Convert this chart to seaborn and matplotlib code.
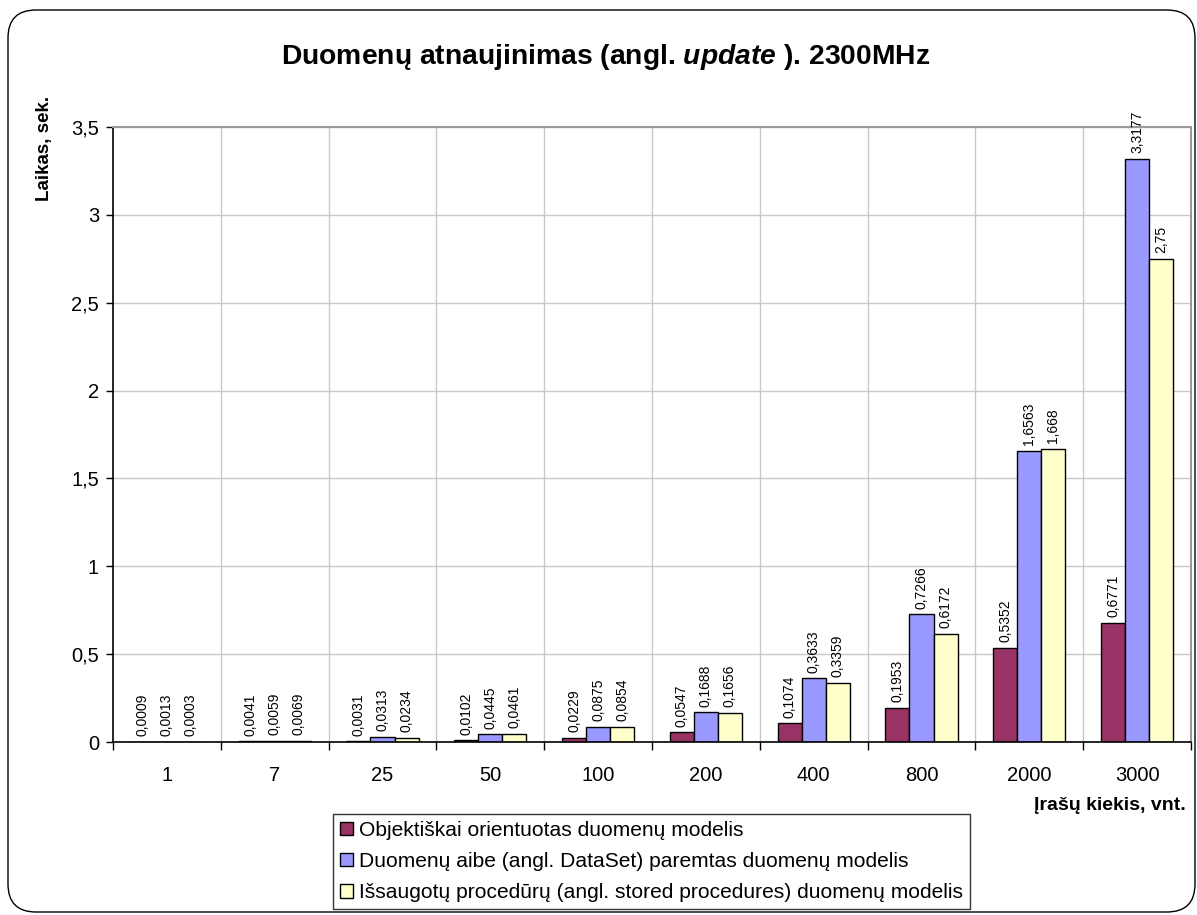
import matplotlib
matplotlib.use("Agg")
import matplotlib.pyplot as plt
from matplotlib.patches import FancyBboxPatch, Patch
import numpy as np
import pandas as pd
import seaborn as sns

# Record counts (categories) and update times in seconds for each data model
categories = ["1", "7", "25", "50", "100", "200", "400", "800", "2000", "3000"]
series_names = [
    "Objektiškai orientuotas duomenų modelis",
    "Duomenų aibe (angl. DataSet) paremtas duomenų modelis",
    "Išsaugotų procedūrų (angl. stored procedures) duomenų modelis",
]
object_model = [0.0009, 0.0041, 0.0031, 0.0102, 0.0229, 0.0547, 0.1074, 0.1953, 0.5352, 0.6771]
dataset_model = [0.0013, 0.0059, 0.0313, 0.0445, 0.0875, 0.1688, 0.3633, 0.7266, 1.6563, 3.3177]
stored_proc_model = [0.0003, 0.0069, 0.0234, 0.0461, 0.0854, 0.1656, 0.3359, 0.6172, 1.668, 2.75]
y_ticks = [0, 0.5, 1, 1.5, 2, 2.5, 3, 3.5]
y_tick_labels = ["0", "0,5", "1", "1,5", "2", "2,5", "3", "3,5"]

colors = ["#993366", "#9999FF", "#FFFFCC"]

df = pd.DataFrame({
    "kiekis": categories * 3,
    "laikas": object_model + dataset_model + stored_proc_model,
    "modelis": [series_names[0]] * 10 + [series_names[1]] * 10 + [series_names[2]] * 10,
})

sns.set_theme(style="white")
plt.rcParams["font.family"] = ["Liberation Sans", "DejaVu Sans"]
plt.rcParams["text.color"] = "black"
plt.rcParams["axes.labelcolor"] = "black"
plt.rcParams["xtick.color"] = "black"
plt.rcParams["ytick.color"] = "black"
plt.rcParams["mathtext.fontset"] = "custom"
plt.rcParams["mathtext.rm"] = "Liberation Sans:bold"
plt.rcParams["mathtext.it"] = "Liberation Sans:bold:italic"

W, H = 1197, 915
fig = plt.figure(figsize=(W / 100, H / 100), dpi=100)
fig.patch.set_facecolor("white")

# Rounded outer chart frame
frame = FancyBboxPatch((0.08, 0.03), 11.87, 9.02,
                       boxstyle="round,pad=0,rounding_size=0.28",
                       transform=fig.dpi_scale_trans, facecolor="none",
                       edgecolor="black", linewidth=1.0, zorder=0)
fig.patches.append(frame)

ax = fig.add_axes([113 / W, 1 - 742 / H, (1191 - 113) / W, (742 - 127) / H])
sns.barplot(data=df, x="kiekis", y="laikas", hue="modelis", order=categories,
            hue_order=series_names, palette=colors, width=0.67,
            edgecolor="black", linewidth=1.0, saturation=1, ax=ax, legend=False,
            zorder=3)

ax.set_xlim(-0.5, len(categories) - 0.5)
ax.set_ylim(0, 3.5)
ax.set_yticks(y_ticks)
ax.set_yticklabels(y_tick_labels, fontsize=14.5)
ax.set_xticks(range(len(categories)))
ax.set_xticklabels(categories, fontsize=14.5)
ax.set_xlabel("")
ax.set_ylabel("")

# Grid: horizontal at y ticks, vertical at category boundaries
for y in y_ticks[1:]:
    ax.axhline(y, color="#C8C8C8", linewidth=1.0, zorder=1)
for b in np.arange(0.5, len(categories) - 0.5, 1.0):
    ax.axvline(b, color="#C8C8C8", linewidth=1.0, zorder=1)

ax.tick_params(axis="x", length=0, pad=17)
ax.tick_params(axis="y", length=5, width=1, color="black", pad=5, left=True)
# Category boundary ticks on the x axis
ax.set_xticks(np.arange(-0.5, len(categories), 1.0), minor=True)
ax.tick_params(axis="x", which="minor", length=6, width=1, color="black", bottom=True)

for side in ["top", "right"]:
    ax.spines[side].set_color("#999999")
    ax.spines[side].set_linewidth(1.5)
for side in ["left", "bottom"]:
    ax.spines[side].set_color("black")
    ax.spines[side].set_linewidth(1.2)
ax.spines["bottom"].set_zorder(5)

# Value labels above each bar
for container, vals in zip(ax.containers, [object_model, dataset_model, stored_proc_model]):
    labels = [str(v).replace(".", ",") for v in vals]
    ax.bar_label(container, labels=labels, rotation=90, padding=4,
                 fontsize=10, clip_on=False)

fig.text(606 / W, 1 - 57 / H,
         r"Duomenų atnaujinimas (angl. $\it{update}$ ). 2300MHz",
         ha="center", va="center", fontsize=20.3, fontweight="bold")
fig.text(45 / W, 1 - 148 / H, "Laikas, sek.", rotation=90, ha="center",
         va="center", fontsize=13.5, fontweight="bold")
fig.text(1186 / W, 1 - 806 / H, "Įrašų kiekis, vnt.", ha="right",
         va="center", fontsize=14, fontweight="bold")

handles = [Patch(facecolor=c, edgecolor="black", linewidth=1.0) for c in colors]
leg = fig.legend(handles, series_names, loc="upper left",
                 bbox_to_anchor=(333 / W, 1 - 814 / H), fontsize=15.1,
                 frameon=True, fancybox=False, handlelength=0.62,
                 handleheight=0.62, handletextpad=0.3, labelspacing=0.58,
                 borderpad=0.33, borderaxespad=0)
leg.get_frame().set_edgecolor("black")
leg.get_frame().set_linewidth(1.0)

fig.savefig("out.png", dpi=100)
